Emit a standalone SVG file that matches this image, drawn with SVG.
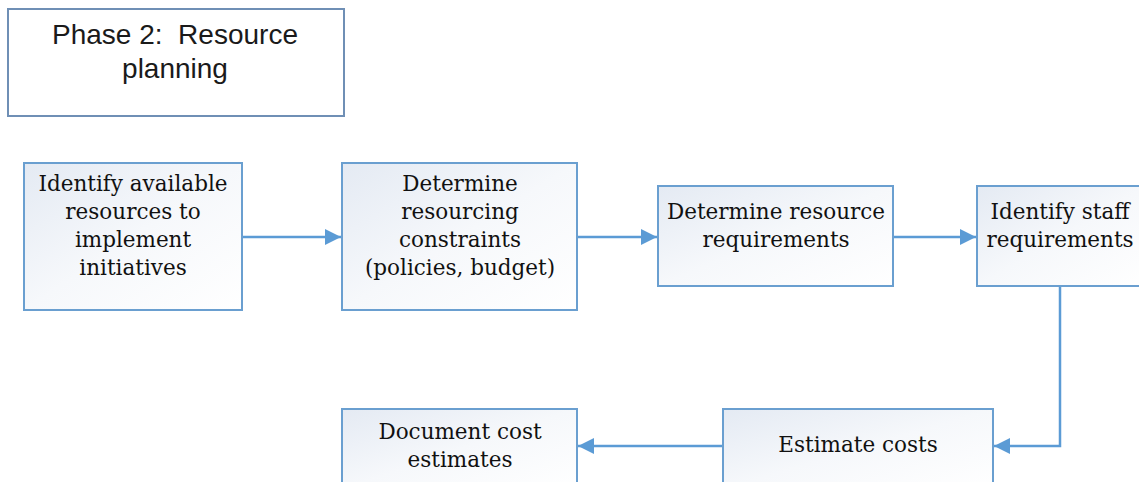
<svg xmlns="http://www.w3.org/2000/svg" width="1139" height="482" viewBox="0 0 1139 482">
  <defs>
    <linearGradient id="boxFill" x1="0" y1="0" x2="1" y2="1">
      <stop offset="0" stop-color="#e4eaf3"/>
      <stop offset="0.5" stop-color="#f6f8fb"/>
      <stop offset="1" stop-color="#ffffff"/>
    </linearGradient>
    <marker id="arrow" viewBox="0 0 10 10" refX="10" refY="5" markerWidth="16" markerHeight="16" markerUnits="userSpaceOnUse" orient="auto">
      <path d="M0,0 L10,5 L0,10 z" fill="#5b9bd5"/>
    </marker>
    <style>
      .box { fill: url(#boxFill); stroke: #6a9fd0; stroke-width: 2; }
      .title-box { fill: #ffffff; stroke: #6f8fb5; stroke-width: 2; }
      .label { font-family: "DejaVu Serif", "Liberation Serif", serif; font-size: 21.5px; fill: #111111; text-anchor: middle; }
      .title { font-family: "Liberation Sans", Arial, sans-serif; font-size: 28px; fill: #1a1a1a; text-anchor: middle; white-space: pre; }
      .conn { fill: none; stroke: #5b9bd5; stroke-width: 2.5; marker-end: url(#arrow); }
    </style>
  </defs>

  <rect width="1139" height="482" fill="#ffffff"/>

  <g id="title">
    <rect class="title-box" x="8" y="9" width="336" height="107"/>
    <text class="title" x="175" y="44" xml:space="preserve">Phase 2:  Resource</text>
    <text class="title" x="175" y="78">planning</text>
  </g>

  <g id="connectors">
    <path class="conn" d="M242,237 H341"/>
    <path class="conn" d="M577,237 H657"/>
    <path class="conn" d="M893,237 H976"/>
    <path class="conn" d="M1060,286 V446 H994"/>
    <path class="conn" d="M723,446 H578"/>
  </g>

  <g id="identify-resources">
    <rect class="box" x="24" y="163" width="218" height="147"/>
    <text class="label" x="133" y="191">Identify available</text>
    <text class="label" x="133" y="219">resources to</text>
    <text class="label" x="133" y="247">implement</text>
    <text class="label" x="133" y="275">initiatives</text>
  </g>

  <g id="determine-constraints">
    <rect class="box" x="342" y="163" width="235" height="147"/>
    <text class="label" x="460" y="191">Determine</text>
    <text class="label" x="460" y="219">resourcing</text>
    <text class="label" x="460" y="247">constraints</text>
    <text class="label" x="460" y="275">(policies, budget)</text>
  </g>

  <g id="determine-requirements">
    <rect class="box" x="658" y="186" width="235" height="100"/>
    <text class="label" x="776" y="219">Determine resource</text>
    <text class="label" x="776" y="247">requirements</text>
  </g>

  <g id="staff-requirements">
    <rect class="box" x="977" y="186" width="170" height="100"/>
    <text class="label" x="1060" y="219">Identify staff</text>
    <text class="label" x="1060" y="247">requirements</text>
  </g>

  <g id="estimate-costs">
    <rect class="box" x="723" y="409" width="270" height="80"/>
    <text class="label" x="858" y="452">Estimate costs</text>
  </g>

  <g id="document-estimates">
    <rect class="box" x="342" y="409" width="235" height="80"/>
    <text class="label" x="460" y="439">Document cost</text>
    <text class="label" x="460" y="467">estimates</text>
  </g>
</svg>
